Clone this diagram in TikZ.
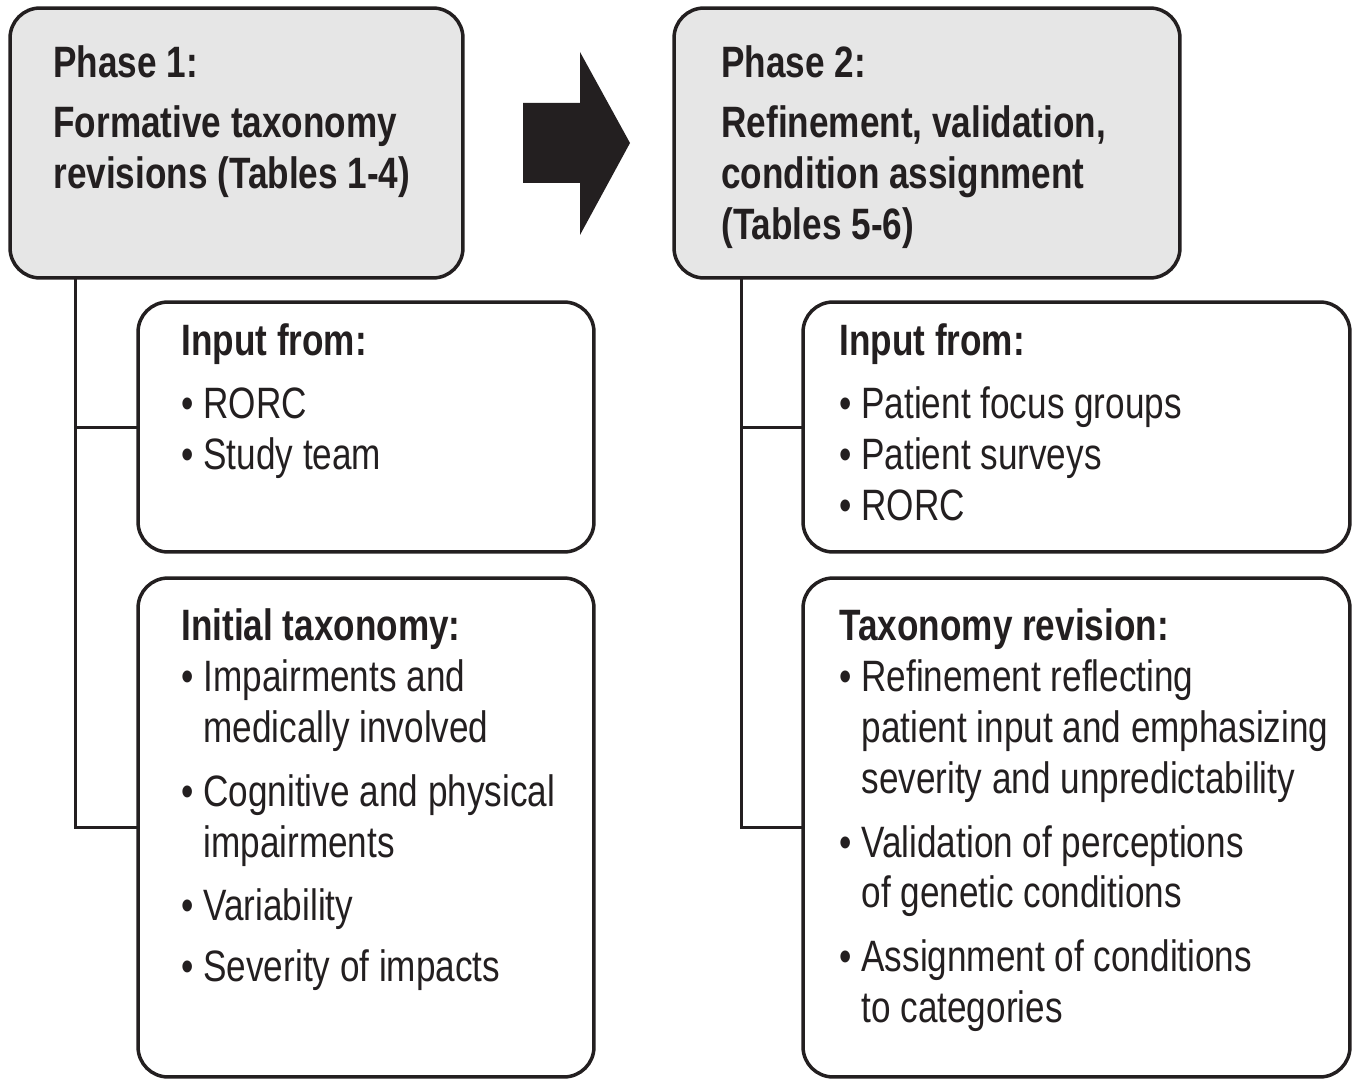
\documentclass[tikz,border=0pt]{standalone}
\usepackage{fontspec}
\setmainfont[FakeStretch=0.80]{Liberation Sans}
\usetikzlibrary{positioning}
\definecolor{boxline}{RGB}{35,31,32}
\definecolor{phasegray}{RGB}{230,230,230}
\newcommand{\bl}{\textbullet\ }
\newcommand{\itemind}{\phantom{\textbullet\ }}
\tikzset{
  box/.style={rectangle, draw=boxline, line width=0.07cm, rounded corners=0.6cm,
              inner sep=0pt, outer sep=0pt},
  phase/.style={box, fill=phasegray},
  txt/.style={anchor=north west, align=left, inner sep=0pt, text=boxline,
              font=\fontsize{25pt}{29pt}\selectfont},
  head/.style={txt, font=\fontsize{25pt}{29pt}\selectfont\bfseries},
  link/.style={draw=boxline, line width=0.06cm},
  bigarrow/.style={fill=boxline}
}

\begin{document}
\begin{tikzpicture}[x=0.02cm, y=-0.02cm]
  \useasboundingbox (0,0) rectangle (1359,1081);
  % phase boxes
  \node[phase, minimum width=9.06cm, minimum height=5.4cm] (p1) at (236.5,143) {};
  \node[phase, minimum width=10.12cm, minimum height=5.4cm] (p2) at (927,143) {};
  \node[head] (p1t) at ([shift={(43,37)}]p1.north west)
    {Phase 1:\\[0.18cm]Formative taxonomy\\revisions (Tables 1-4)};
  \node[head] (p2t) at ([shift={(47,37)}]p2.north west)
    {Phase 2:\\[0.18cm]Refinement, validation,\\condition assignment\\(Tables 5-6)};
  \fill[bigarrow] (523,103) -- (580,103) -- (580,52) -- (630,143) -- (580,235)
    -- (580,183) -- (523,183) -- cycle;
  % detail boxes
  \node[box, minimum width=9.12cm, minimum height=5cm] (in1) at (366,427) {};
  \node[box, minimum width=9.12cm, minimum height=9.98cm] (tax1) at (366,827.5) {};
  \node[box, minimum width=10.94cm, minimum height=5cm] (in2) at (1076.5,427) {};
  \node[box, minimum width=10.94cm, minimum height=9.98cm] (tax2) at (1076.5,827.5) {};
  \node[txt] (in1t) at ([shift={(43,21)}]in1.north west)
    {\textbf{Input from:}\\[0.24cm]\bl RORC\\\bl Study team};
  \node[txt] (tax1t) at ([shift={(43,30)}]tax1.north west)
    {\textbf{Initial taxonomy:}\\\bl Impairments and\\\itemind medically involved\\[0.26cm]%
     \bl Cognitive and physical\\\itemind impairments\\[0.26cm]\bl Variability\\[0.2cm]%
     \bl Severity of impacts};
  \node[txt] (in2t) at ([shift={(36,21)}]in2.north west)
    {\textbf{Input from:}\\[0.24cm]\bl Patient focus groups\\\bl Patient surveys\\\bl RORC};
  \node[txt] (tax2t) at ([shift={(36,30)}]tax2.north west)
    {\textbf{Taxonomy revision:}\\\bl Refinement reflecting\\\itemind patient input and emphasizing\\%
     \itemind severity and unpredictability\\[0.26cm]\bl Validation of perceptions\\%
     \itemind of genetic conditions\\[0.26cm]\bl Assignment of conditions\\\itemind to categories};
  % connectors
  \coordinate (s1) at ([shift={(65,0)}]p1.south west);
  \coordinate (s2) at ([shift={(67,0)}]p2.south west);
  \draw[link] (s1) |- (in1.west);
  \draw[link] (s1) |- (tax1.west);
  \draw[link] (s2) |- (in2.west);
  \draw[link] (s2) |- (tax2.west);
\end{tikzpicture}
\end{document}
